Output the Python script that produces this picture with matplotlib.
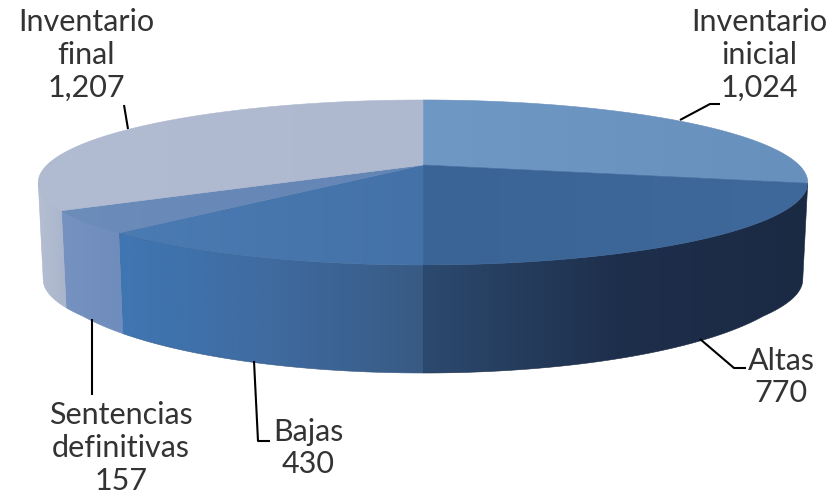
import numpy as np
import matplotlib
matplotlib.use("Agg")
import matplotlib.pyplot as plt
from matplotlib.path import Path
from matplotlib.patches import PathPatch
from matplotlib.colors import LinearSegmentedColormap

categories = ["Inventario\ninicial", "Altas", "Bajas", "Sentencias\ndefinitivas", "Inventario\nfinal"]
values = [1024, 770, 430, 157, 1207]
value_labels = ["1,024", "770", "430", "157", "1,207"]

top_colors = [("#7098c4", "#6790bd"), ("#3a6396", "#3f689b"), ("#4a7bb2", "#4472a8"), ("#6c8cba", "#6385b5"), ("#b1bcd2", "#aeb9cf")]
wall_colors = [None, ("#2c4a6f", "#1e2f4c", "#1b2a43"), ("#3f76b2", "#3f6ba0", "#385a83"), ("#7592c1", "#6f8dbc"), ("#b5bfd2", "#a9b5cc")]

W, H = 831, 495
CX, CY, A, B, K = 423, 165, 376, 78.8, 0.212
plt.rcParams["font.family"] = ["Lato", "DejaVu Sans"]

fig = plt.figure(figsize=(W / 100, H / 100), dpi=100)
ax = fig.add_axes([0, 0, 1, 1])
ax.set_xlim(0, W)
ax.set_ylim(H, 0)
ax.axis("off")


def top_pt(theta):
    X, Y = np.sin(theta), np.cos(theta)
    d = 1 + K * Y
    return CX + A * X / d, CY - B * Y / d


def bottom_pt(theta):
    x, y = top_pt(theta)
    Y = np.cos(theta)
    h = 97 + 11 * np.clip((-Y - 0.6) / 0.4, 0, 1)
    return CX + (x - CX) * (1 - 5 / 385), y + h


def fill_gradient(verts, stops, zorder):
    verts = np.asarray(verts)
    x0, x1 = verts[:, 0].min(), verts[:, 0].max()
    y0, y1 = verts[:, 1].min(), verts[:, 1].max()
    closed = np.vstack([verts, verts[0]])
    poly = PathPatch(Path(closed, closed=True), fc="none", ec="none", transform=ax.transData)
    ax.add_patch(poly)
    cmap = LinearSegmentedColormap.from_list("g", list(stops))
    im = ax.imshow(np.linspace(0, 1, 256).reshape(1, -1), extent=(x0, x1, y1, y0), cmap=cmap,
                   aspect="auto", zorder=zorder, interpolation="bilinear")
    im.set_clip_path(poly)
    ax.add_patch(PathPatch(Path(closed, closed=True), fc="none", ec=stops[-1], lw=0.4, zorder=zorder))


edges = np.concatenate([[0], np.cumsum(values)]) / np.sum(values) * 2 * np.pi
sil_r = np.arccos(-K)
sil_l = 2 * np.pi - sil_r

for i in range(len(values)):
    a0, a1 = edges[i], edges[i + 1]
    s0, s1 = max(a0, sil_r), min(a1, sil_l)
    if wall_colors[i] is not None and s1 > s0:
        t = np.linspace(s0, s1, 120)
        xt, yt = top_pt(t)
        xb, yb = bottom_pt(t)
        verts = np.column_stack([np.r_[xt, xb[::-1]], np.r_[yt, yb[::-1]]])
        fill_gradient(verts, wall_colors[i], 2 + i * 0.01)

for i in range(len(values)):
    t = np.linspace(edges[i], edges[i + 1], 200)
    xt, yt = top_pt(t)
    verts = np.column_stack([np.r_[CX, xt], np.r_[CY, yt]])
    fill_gradient(verts, top_colors[i], 3 + i * 0.01)

leaders = [
    ([680, 710, 720], [120, 104, 104]),
    ([700, 734, 746], [339, 368, 368]),
    ([254, 258, 270], [361, 441, 441]),
    ([92, 92], [319, 395]),
    ([128, 124], [129, 105]),
]
for xs, ys in leaders:
    ax.plot(xs, ys, color="black", lw=1.5, zorder=4, solid_capstyle="butt")

label_pos = [(759, 55), (781, 377), (308, 448), (121, 448), (86, 55)]
for cat, val, (x, y) in zip(categories, value_labels, label_pos):
    ax.text(x, y, f"{cat}\n{val}", ha="center", va="center", fontsize=22, color="#333333",
            linespacing=1.2, zorder=5)

fig.savefig("out.png", dpi=100)
